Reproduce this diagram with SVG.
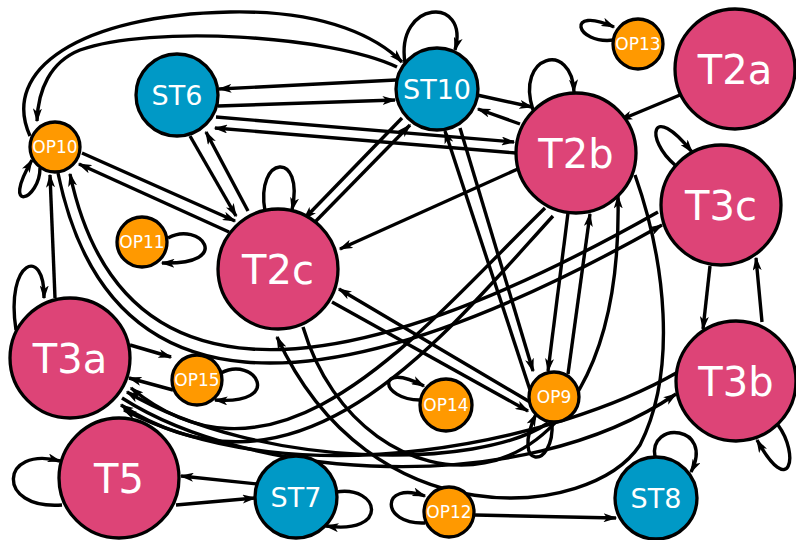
<svg xmlns="http://www.w3.org/2000/svg" width="796" height="540" viewBox="0 0 796 540">
<defs>
<marker id="a" viewBox="0 0 14 9" refX="12.5" refY="4.5" markerWidth="14" markerHeight="9" orient="auto" markerUnits="userSpaceOnUse"><path d="M0,0 L14,4.5 L0,9 L3.5,4.5z" fill="#000"/></marker>
<style>
.e path{fill:none;stroke:#000;stroke-width:3.4;marker-end:url(#a)}
.n circle{stroke:#000;stroke-width:3.3}
.t circle{fill:#dd4477}.s circle{fill:#0099c6}.o circle{fill:#ff9900}
.n text{font-family:"DejaVu Sans",sans-serif;fill:#fff;text-anchor:middle}
.t text{font-size:40px}.s text{font-size:27px}.o text{font-size:17px}
</style>
</defs>
<rect width="796" height="540" fill="#fff"/>
<g id="edges" class="e">
<path d="M405,63 C395,0 470,-5 455,50"/>
<path d="M614,40 C575,45 565,5 614,27"/>
<path d="M533,110 C515,55 572,40 574,92"/>
<path d="M675,165 C645,140 650,100 692,152"/>
<path d="M778,425 C800,455 790,500 757,440"/>
<path d="M655,457 C648,420 715,425 691,472"/>
<path d="M336,492 C380,485 390,535 326,526"/>
<path d="M425,523 C380,525 380,480 425,496"/>
<path d="M420,400 C380,400 375,360 424,386"/>
<path d="M552,422 C555,470 510,470 536,414"/>
<path d="M221,373 C255,355 285,405 215,400"/>
<path d="M168,238 C200,220 235,265 162,263"/>
<path d="M265,211 C255,155 305,150 292,210"/>
<path d="M16,330 C5,260 45,245 44,298"/>
<path d="M40,168 C40,200 0,215 32,160"/>
<path d="M62,505 C-5,510 0,445 60,461"/>
<path d="M396,80 L219,89"/>
<path d="M218,106 L395,100"/>
<path d="M216,117 L514,142"/>
<path d="M516,153 L215,128"/>
<path d="M477,95 L532,107"/>
<path d="M520,124 L478,109"/>
<path d="M82,153 L235,221"/>
<path d="M229,232 L79,164"/>
<path d="M55,298 L50,175"/>
<path d="M190,136 L236,216"/>
<path d="M248,211 L206,132"/>
<path d="M402,118 L304,219"/>
<path d="M314,223 L410,125"/>
<path d="M520,168 L340,249"/>
<path d="M530,390 L445,131"/>
<path d="M460,128 L533,371"/>
<path d="M568,213 L548,371"/>
<path d="M568,374 L590,214"/>
<path d="M530,402 L339,289"/>
<path d="M332,302 L528,411"/>
<path d="M680,95 L620,120"/>
<path d="M710,266 L703,329"/>
<path d="M762,322 L756,258"/>
<path d="M130,345 L171,357"/>
<path d="M173,390 L129,378"/>
<path d="M257,484 L181,476"/>
<path d="M176,505 L255,498"/>
<path d="M475,515 L616,518"/>
<path d="M30,136 C0,70 80,15 230,12 C330,10 380,40 402,62"/>
<path d="M397,67 C330,35 150,25 80,50 C50,62 38,90 37,121"/>
<path d="M58,173 Q130,525 662,225"/>
<path d="M658,212 Q140,505 70,174"/>
<path d="M545,208 C420,330 280,510 131,388"/>
<path d="M553,216 C440,340 300,520 121,405"/>
<path d="M303,327 C360,520 625,540 618,196"/>
<path d="M635,175 C665,260 678,370 640,445 C590,520 370,540 277,337"/>
<path d="M122,398 C250,480 520,500 676,394"/>
<path d="M678,372 C560,440 300,500 124,410"/>
<path d="M548,423 C480,470 260,470 127,392"/>
</g>
<g id="ST6" class="n s"><circle cx="177" cy="95" r="41"/><text x="177" y="105">ST6</text></g>
<g id="ST10" class="n s"><circle cx="437" cy="89" r="41"/><text x="437" y="99">ST10</text></g>
<g id="OP10" class="n o"><circle cx="55" cy="147" r="25"/><text x="55" y="153">OP10</text></g>
<g id="OP13" class="n o"><circle cx="638" cy="44" r="25"/><text x="638" y="50">OP13</text></g>
<g id="T2a" class="n t"><circle cx="735" cy="69" r="60"/><text x="735" y="84">T2a</text></g>
<g id="T2b" class="n t"><circle cx="576" cy="153" r="60"/><text x="576" y="168">T2b</text></g>
<g id="T3c" class="n t"><circle cx="721" cy="205" r="60"/><text x="721" y="220">T3c</text></g>
<g id="T2c" class="n t"><circle cx="278" cy="269" r="60"/><text x="278" y="284">T2c</text></g>
<g id="OP11" class="n o"><circle cx="142" cy="242" r="25"/><text x="142" y="248">OP11</text></g>
<g id="T3a" class="n t"><circle cx="70" cy="358" r="60"/><text x="70" y="373">T3a</text></g>
<g id="OP15" class="n o"><circle cx="197" cy="380" r="25"/><text x="197" y="386">OP15</text></g>
<g id="OP14" class="n o"><circle cx="446" cy="405" r="26"/><text x="446" y="411">OP14</text></g>
<g id="OP9" class="n o"><circle cx="554" cy="397" r="25"/><text x="554" y="403">OP9</text></g>
<g id="T3b" class="n t"><circle cx="736" cy="381" r="60"/><text x="736" y="396">T3b</text></g>
<g id="T5" class="n t"><circle cx="119" cy="478" r="60"/><text x="119" y="493">T5</text></g>
<g id="ST7" class="n s"><circle cx="296" cy="497" r="41"/><text x="296" y="507">ST7</text></g>
<g id="OP12" class="n o"><circle cx="449" cy="512" r="25"/><text x="449" y="518">OP12</text></g>
<g id="ST8" class="n s"><circle cx="656" cy="498" r="41"/><text x="656" y="508">ST8</text></g>
</svg>
